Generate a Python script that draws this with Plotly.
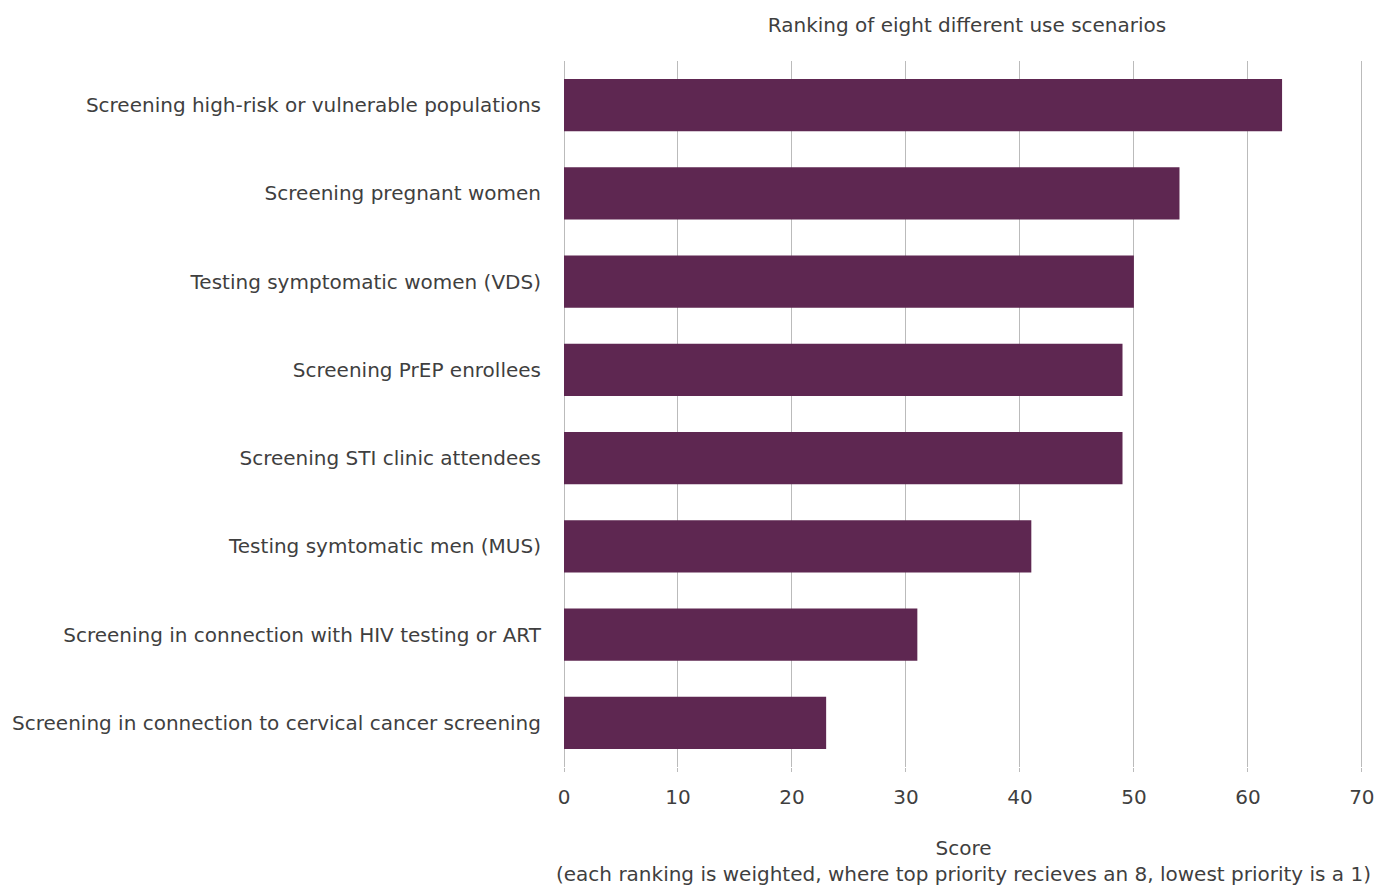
import plotly.graph_objects as go

categories = [
    "Screening high-risk or vulnerable populations",
    "Screening pregnant women",
    "Testing symptomatic women (VDS)",
    "Screening PrEP enrollees",
    "Screening STI clinic attendees",
    "Testing symtomatic men (MUS)",
    "Screening in connection with HIV testing or ART",
    "Screening in connection to cervical cancer screening",
]
scores = [63, 54, 50, 49, 49, 41, 31, 23]
tick_vals = [0, 10, 20, 30, 40, 50, 60, 70]

fig = go.Figure(go.Bar(
    x=scores, y=categories, orientation="h",
    marker=dict(color="#5E2751", line=dict(width=0)),
    hoverinfo="x+y",
))

font_family = "DejaVu Sans, Liberation Sans, Arial, sans-serif"
FS = 20
TXT = "#3f3f3f"
fig.update_layout(
    template="none",
    width=1375, height=886,
    margin=dict(l=564, r=12, t=61, b=119, autoexpand=False),
    paper_bgcolor="white", plot_bgcolor="white",
    bargap=0.41,
    showlegend=False,
    font=dict(family=font_family, size=FS, color=TXT),
    title=dict(text="Ranking of eight different use scenarios", x=967/1375, xanchor="center",
               y=1-25/886, yanchor="middle", font=dict(size=FS, color=TXT)),
    xaxis=dict(
        range=[0, 70.1], tickvals=tick_vals, showgrid=True, gridcolor="#BBBBBB", gridwidth=1,
        zeroline=True, zerolinecolor="#BBBBBB", zerolinewidth=1, showline=False,
        ticks="outside", ticklen=4, tickcolor="#BBBBBB", tickwidth=1,
        ticklabelstandoff=8,
        tickfont=dict(size=FS, color=TXT),
        automargin=False,
        title=dict(text="Score<br>(each ranking is weighted, where top priority recieves an 8, lowest priority is a 1)",
                   font=dict(size=FS, color=TXT), standoff=49),
        fixedrange=True,
    ),
    yaxis=dict(
        autorange="reversed", showgrid=False, ticks="", zeroline=False, showline=False,
        ticklabelstandoff=22, automargin=False,
        tickfont=dict(size=FS, color=TXT),
        fixedrange=True,
    ),
)

fig.write_html("out.html")
